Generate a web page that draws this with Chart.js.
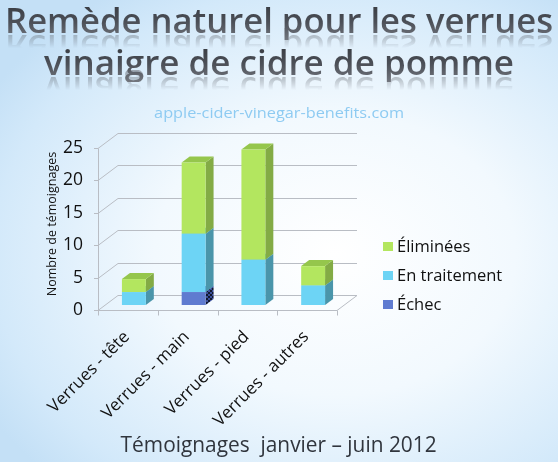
<!DOCTYPE html>
<html>
<head>
<meta charset="utf-8">
<script src="https://cdn.jsdelivr.net/npm/chart.js@4.4.0/dist/chart.umd.min.js"></script>
<style>
html,body{margin:0;padding:0;}
body{width:558px;height:462px;overflow:hidden;position:relative;
 background:radial-gradient(ellipse 72% 68% at 60% 55%, #ffffff 0%, #f2f9fe 45%, #d3e9fa 85%, #c4e0f6 100%);
 font-family:"Open Sans",sans-serif;}
.t{position:absolute;left:0;width:558px;text-align:center;white-space:nowrap;}
.t span{display:inline-block;transform-origin:center;}
#title1,#title2{font-size:35px;line-height:40px;font-weight:600;
 -webkit-box-reflect: below -12px linear-gradient(transparent 50%, rgba(255,255,255,0.6));}
#title1 span,#title2 span{background:linear-gradient(#34373d 0%, #4c5058 55%, #72767e 100%);-webkit-background-clip:text;background-clip:text;color:transparent;}
#title1{top:0px;}
#title2{top:42px;}
#sub{top:102px;font-size:15px;color:#8ecbf2;}
#foot{top:428px;font-size:22px;color:#30353d;}
#c{position:absolute;left:0;top:0;}
#legend{position:absolute;left:383px;top:236px;font-size:16.5px;color:#111;}
#legend div{height:29px;line-height:20px;white-space:nowrap;}
#legend i{display:inline-block;width:10px;height:9px;margin-right:4px;vertical-align:1px;}
</style>
</head>
<body>
<div class="t" id="title1"><span>Remède naturel pour les verrues</span></div>
<div class="t" id="title2"><span>vinaigre de cidre de pomme</span></div>
<div class="t" id="sub"><span>apple-cider-vinegar-benefits.com</span></div>
<div class="t" id="foot"><span>Témoignages&nbsp; janvier – juin 2012</span></div>
<canvas id="c" width="558" height="462"></canvas>
<div id="legend"></div>
<script>
const categories = ["Verrues - tête", "Verrues - main", "Verrues - pied", "Verrues - autres"];
const echec = [0, 2, 0, 0];
const enTraitement = [2, 9, 7, 3];
const eliminees = [2, 11, 17, 3];
const yTicks = [0, 5, 10, 15, 20, 25];

function fit(id, w){
  const s = document.querySelector('#'+id+' span');
  const cur = s.getBoundingClientRect().width;
  s.style.transform = 'scaleX(' + (w/cur) + ')';
}
fit('title1', 548); fit('title2', 470); fit('sub', 250); fit('foot', 316);

const FRONT = {dx:-6, dy:5}, BACK = {dx:14, dy:-10}, SIDE = {dx:8, dy:-6};

const pc = document.createElement('canvas'); pc.width = 4; pc.height = 4;
const pctx = pc.getContext('2d');
pctx.fillStyle = '#3a4f9a'; pctx.fillRect(0,0,4,4);
pctx.fillStyle = '#10182e'; pctx.fillRect(0,0,2,2); pctx.fillRect(2,2,2,2);

const styles = [
  {front:'#5f7bd0', side:null, top:'#4d66b8'},
  {front:'#6dd4f5', side:'#4a95aa', top:'#5ab7d4'},
  {front:'#b3e65f', side:'#83ab45', top:'#95c64c'}
];

const bg3d = {
  id:'bg3d',
  beforeDatasetsDraw(chart){
    const ctx = chart.ctx, ys = chart.scales.y, a = chart.chartArea;
    const pattern = ctx.createPattern(pc, 'repeat');
    ctx.save();
    ctx.lineWidth = 1;
    ctx.strokeStyle = '#b9bdc4';
    yTicks.forEach(v => {
      const y = Math.round(ys.getPixelForValue(v)) + 0.5;
      ctx.beginPath();
      ctx.moveTo(a.left + FRONT.dx, y + FRONT.dy);
      ctx.lineTo(a.left + BACK.dx, y + BACK.dy);
      ctx.lineTo(a.right + BACK.dx, y + BACK.dy);
      ctx.stroke();
      ctx.beginPath();
      ctx.moveTo(a.left + FRONT.dx - 4, y + FRONT.dy);
      ctx.lineTo(a.left + FRONT.dx, y + FRONT.dy);
      ctx.stroke();
    });
    const y0 = Math.round(ys.getPixelForValue(0)) + 0.5;
    const yT = Math.round(ys.getPixelForValue(25)) + 0.5;
    ctx.beginPath();
    ctx.moveTo(a.left + FRONT.dx + 0.5, y0 + FRONT.dy);
    ctx.lineTo(a.left + FRONT.dx + 0.5, yT + FRONT.dy);
    ctx.stroke();
    ctx.beginPath();
    ctx.moveTo(a.left + FRONT.dx, y0 + FRONT.dy);
    ctx.lineTo(a.right + FRONT.dx, y0 + FRONT.dy);
    ctx.lineTo(a.right + BACK.dx, y0 + BACK.dy);
    ctx.stroke();
    for (let i = 0; i <= categories.length; i++) {
      const x = Math.round(a.left + (a.right - a.left) * i / categories.length + FRONT.dx) + 0.5;
      ctx.beginPath();
      ctx.moveTo(x, y0 + FRONT.dy);
      ctx.lineTo(x, y0 + FRONT.dy + 5);
      ctx.stroke();
    }
    chart.data.datasets.forEach((ds, di) => {
      const meta = chart.getDatasetMeta(di);
      meta.data.forEach((el, i) => {
        if (!ds.data[i]) return;
        const p = el.getProps(['x','y','base','width'], true);
        const l = p.x - p.width/2, r = p.x + p.width/2, top = p.y, bot = p.base;
        const st = styles[di];
        ctx.fillStyle = st.side || pattern;
        ctx.beginPath();
        ctx.moveTo(r, top); ctx.lineTo(r + SIDE.dx, top + SIDE.dy);
        ctx.lineTo(r + SIDE.dx, bot + SIDE.dy); ctx.lineTo(r, bot); ctx.closePath(); ctx.fill();
        ctx.fillStyle = st.top;
        ctx.beginPath();
        ctx.moveTo(l, top); ctx.lineTo(l + SIDE.dx, top + SIDE.dy);
        ctx.lineTo(r + SIDE.dx, top + SIDE.dy); ctx.lineTo(r, top); ctx.closePath(); ctx.fill();
      });
    });
    ctx.restore();
  }
};

const chart = new Chart(document.getElementById('c'), {
  type:'bar',
  data:{
    labels: categories,
    datasets:[
      {label:'Échec', data: echec, backgroundColor: styles[0].front},
      {label:'En traitement', data: enTraitement, backgroundColor: styles[1].front},
      {label:'Éliminées', data: eliminees, backgroundColor: styles[2].front}
    ]
  },
  options:{
    responsive:false,
    animation:false,
    devicePixelRatio:1,
    layout:{padding:{left:43, right:215, top:143, bottom:0}},
    plugins:{legend:{display:false}, tooltip:{enabled:false}},
    datasets:{bar:{categoryPercentage:1, barPercentage:0.4, borderWidth:0}},
    scales:{
      x:{
        stacked:true,
        grid:{display:false, drawTicks:false}, border:{display:false},
        ticks:{color:'#111', font:{family:'Open Sans', size:17}, minRotation:45, maxRotation:45, labelOffset:-7, padding:22, autoSkip:false},
        afterFit(s){ s.height = 157; }
      },
      y:{
        stacked:true, min:0, max:25,
        grid:{display:false, drawTicks:false}, border:{display:false},
        ticks:{stepSize:5, color:'#111', font:{family:'Open Sans', size:17.5}, padding:21, labelOffset:5},
        title:{display:true, text:'Nombre de témoignages', color:'#111', font:{family:'Open Sans', size:12.5}, padding:{top:2,bottom:0}},
        afterFit(s){ s.width = 61; }
      }
    }
  },
  plugins:[bg3d]
});

const lg = document.getElementById('legend');
chart.data.datasets.slice().reverse().forEach(ds => {
  const d = document.createElement('div');
  d.innerHTML = '<i style="background:' + ds.backgroundColor + '"></i>' + ds.label;
  lg.appendChild(d);
});
</script>
</body>
</html>
